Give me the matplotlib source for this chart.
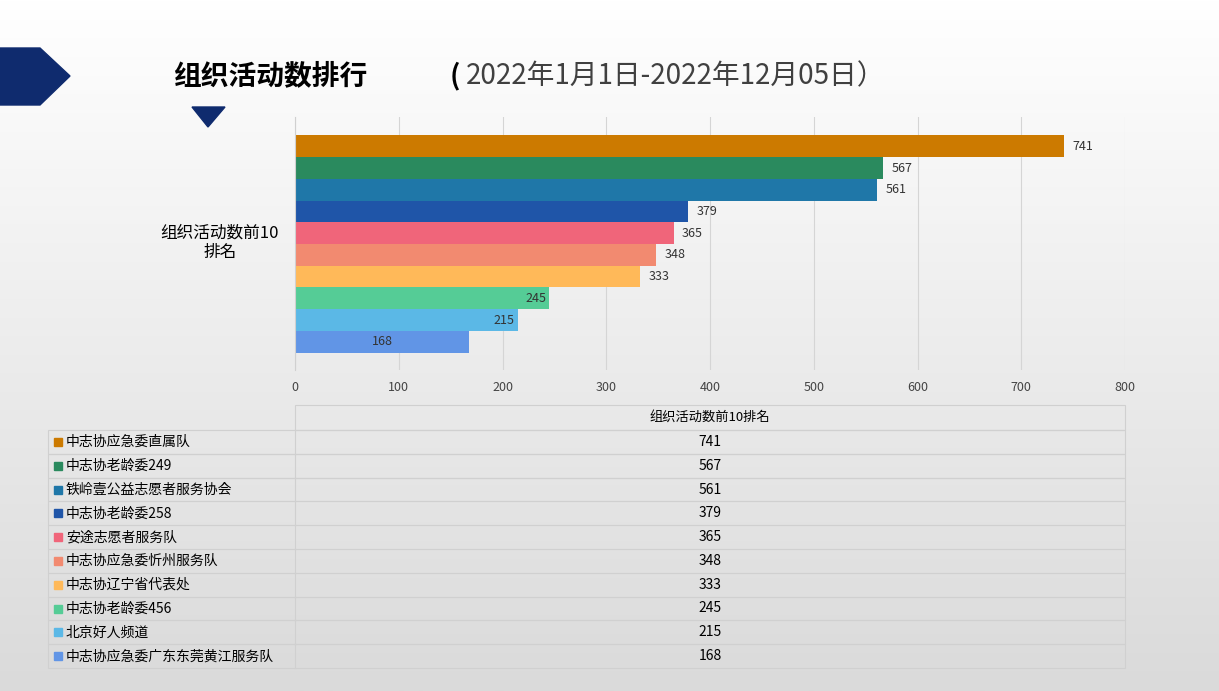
import matplotlib
matplotlib.use("Agg")
import matplotlib.pyplot as plt
from matplotlib import font_manager as fm
import numpy as np
from matplotlib.patches import Polygon, Rectangle

cjk = None
for f in fm.fontManager.ttflist:
    if "CJK" in f.name and ("SC" in f.name or cjk is None):
        cjk = f.name
        if "SC" in f.name:
            break
plt.rcParams["font.family"] = [cjk or "Noto Sans CJK SC", "DejaVu Sans"]

names = ["中志协应急委直属队", "中志协老龄委249", "铁岭壹公益志愿者服务协会", "中志协老龄委258",
         "安途志愿者服务队", "中志协应急委忻州服务队", "中志协辽宁省代表处", "中志协老龄委456",
         "北京好人频道", "中志协应急委广东东莞黄江服务队"]
values = [741, 567, 561, 379, 365, 348, 333, 245, 215, 168]
colors = ["#CC7A00", "#2A8A5E", "#1F77A8", "#1F55A8", "#F0657A", "#F28A70",
          "#FFB959", "#55CC96", "#5BB8E6", "#6195E6"]
xticks = [0, 100, 200, 300, 400, 500, 600, 700, 800]
series_name = "组织活动数前10排名"

W, H = 1219, 691
fig = plt.figure(figsize=(W/100, H/100), dpi=100)

bg = fig.add_axes([0, 0, 1, 1], zorder=-10)
grad = np.linspace(0, 1, 256).reshape(-1, 1)
bg.imshow(grad, aspect="auto",
          cmap=matplotlib.colors.LinearSegmentedColormap.from_list("g", ["#FFFFFF", "#DADADA"]),
          extent=[0, W, H, 0], vmin=0, vmax=1)
bg.set_xlim(0, W); bg.set_ylim(H, 0)
bg.axis("off")
bg.add_patch(Polygon([[0, 48], [40, 48], [70, 76], [40, 105], [0, 105]], color="#0F2B6E"))
bg.add_patch(Polygon([[192, 107], [225, 107], [208, 127]], color="#0F2B6E"))
bg.text(173, 76, "组织活动数排行", fontsize=20, fontweight="bold", va="center", ha="left", color="black")
bg.text(450, 76, "(", fontsize=20, fontweight="bold", va="center", ha="left", color="black")
bg.text(466, 76, "2022年1月1日-2022年12月05日）", fontsize=20, va="center", ha="left", color="#404040")
bg.text(220, 243, "组织活动数前10\n排名", fontsize=12, ha="center", va="center", color="black", linespacing=1.2)

left, mid, right = 48, 295, 1125
top, hdr = 405, 430
rowh = (668 - hdr) / 10
bg.add_patch(Rectangle((mid, top), right-mid, hdr-top, fill=False, ec="#D0D0D0", lw=0.8))
bg.text((mid+right)/2, (top+hdr)/2, series_name, fontsize=9.5, ha="center", va="center")
for i, (n, v, c) in enumerate(zip(names, values, colors)):
    y0 = hdr + i*rowh
    bg.add_patch(Rectangle((left, y0), right-left, rowh, fill=False, ec="#D0D0D0", lw=0.8))
    bg.plot([mid, mid], [y0, y0+rowh], color="#D0D0D0", lw=0.8)
    bg.add_patch(Rectangle((54, y0+rowh/2-4), 8, 8, color=c))
    bg.text(66, y0+rowh/2, n, fontsize=10, va="center", ha="left")
    bg.text((mid+right)/2, y0+rowh/2, str(v), fontsize=10, va="center", ha="center")

ax = fig.add_axes([295/W, 1-370/H, (1125-295)/W, (370-117)/H])
ax.patch.set_alpha(0)
y = np.arange(len(values))
ax.barh(y, values, height=1.0, color=colors)
ax.set_xlim(0, 800)
ax.set_ylim(len(values)-1+0.5+0.8, -0.5-0.85)
ax.set_xticks(xticks)
ax.tick_params(axis="x", labelsize=9, colors="#444444", length=0, pad=8)
ax.set_yticks([])
ax.grid(axis="x", color="#D5D5D5", lw=0.8)
ax.set_axisbelow(True)
for s in ["top", "right", "bottom"]:
    ax.spines[s].set_visible(False)
ax.spines["left"].set_color("#D0D0D0")
for i, v in enumerate(values):
    if v == 168:
        ax.text(v/2, i, str(v), fontsize=9, va="center", ha="center", color="#333333")
    elif v in (245, 215):
        ax.text(v-3, i, str(v), fontsize=9, va="center", ha="right", color="#333333")
    else:
        ax.text(v+8, i, str(v), fontsize=9, va="center", ha="left", color="#333333")

fig.savefig("out.png", dpi=100)
